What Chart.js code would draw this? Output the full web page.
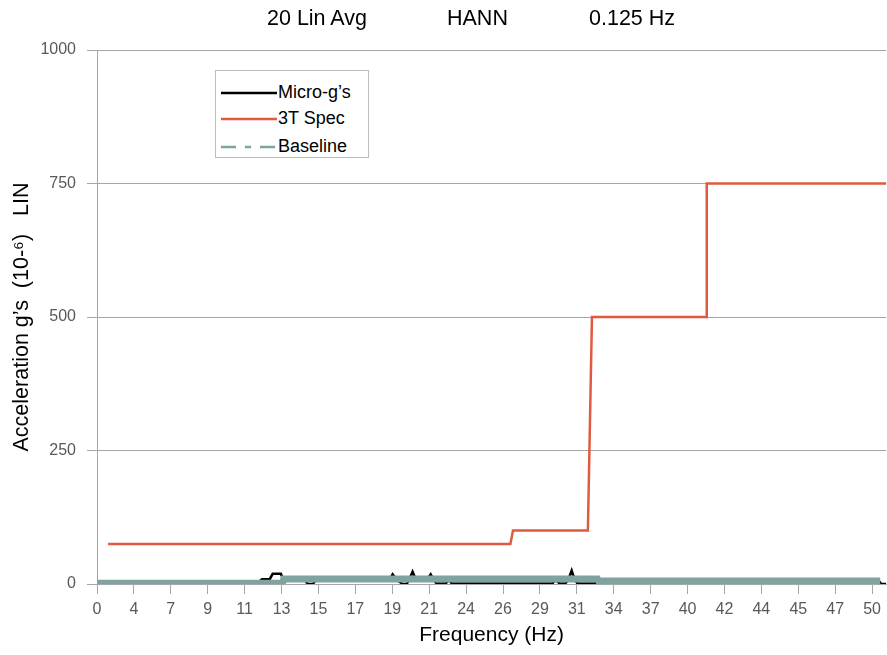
<!DOCTYPE html>
<html>
<head>
<meta charset="utf-8">
<script src="https://cdn.jsdelivr.net/npm/chart.js@4.4.1/dist/chart.umd.min.js"></script>
<style>
  body { margin: 0; background: #fff; }
  #wrap { position: relative; width: 887px; height: 655px; font-family: 'Liberation Sans', Arial, sans-serif; }
  .ttl { position: absolute; top: 6px; font-size: 21.5px; color: #000; white-space: nowrap; }
  #legend { position: absolute; left: 215px; top: 70px; width: 152px; height: 86px; border: 1px solid #bdbdbd; background: #fff; }
  .item { position: absolute; left: 5px; height: 22px; font-size: 18px; line-height: 22px; color: #000; white-space: nowrap; }
  .item svg { vertical-align: middle; margin-right: 1px; }
</style>
</head>
<body>
<div id="wrap">
  <canvas id="specChart" width="887" height="655"></canvas>
  <span class="ttl" style="left:267px">20 Lin Avg</span>
  <span class="ttl" style="left:447px">HANN</span>
  <span class="ttl" style="left:589px">0.125 Hz</span>
  <div id="legend">
    <div class="item" style="top:10px"><svg width="56" height="4"><line x1="0" y1="2" x2="56" y2="2" stroke="#000" stroke-width="2.5"/></svg>Micro-g’s</div>
    <div class="item" style="top:36px"><svg width="56" height="4"><line x1="0" y1="2" x2="56" y2="2" stroke="#e05a3f" stroke-width="2.5"/></svg>3T Spec</div>
    <div class="item" style="top:64px"><svg width="56" height="4"><line x1="0" y1="2" x2="56" y2="2" stroke="#7fa3a0" stroke-width="2.5" stroke-dasharray="15 9 6 9"/></svg>Baseline</div>
  </div>
</div>
<script>
// tick labels along the frequency axis (equally spaced bins)
const freqLabels = ['0', '4', '7', '9', '11', '13', '15', '17', '19', '21', '24', '26', '29', '31', '34', '37', '40', '42', '44', '45', '47', '50']

// x is the position along the bin axis, y is micro-g
const microX = [0, 4.36, 4.47, 4.68, 4.76, 4.98, 5.06, 5.63, 5.71, 5.85, 5.93, 7.93, 8.01, 8.12, 8.28, 8.39, 8.47, 8.55, 8.63, 8.96, 9.04, 9.12, 9.2, 9.45, 9.53, 9.61, 12.34, 12.42, 12.53, 12.69, 12.77, 12.86, 12.94, 13.02, 13.48, 13.61, 21.19, 21.25, 21.38]
const microY = [1, 2, 9, 9, 19, 19, 8, 8, 0, 0, 8, 8, 18, 8, 0, 0, 10, 23, 10, 10, 18, 8, 1, 1, 8, 1, 1, 8, 1, 1, 8, 25, 8, 1, 1, 5, 5, 0, 0]

const specX = [0.3, 11.2, 11.27, 13.3, 13.41, 16.5, 16.52, 21.38]
const specY = [75, 75, 100, 100, 500, 500, 750, 750]

const baseX = [0, 5.03, 5.06, 13.56, 13.59, 21.22]
const baseY = [1.5, 1.5, 9.5, 9.5, 5.5, 5.5]

const xMax = 21.38

function pts(xs, ys) {
  return xs.map((x, i) => ({ x: x, y: ys[i] }))
}

const font = "'Liberation Sans', Arial, sans-serif"

const data = {
  datasets: [
    {
      label: 'Micro-g’s',
      data: pts(microX, microY),
      borderColor: '#000000',
      borderWidth: 2.5,
      pointRadius: 0,
      order: 3,
    },
    {
      label: '3T Spec',
      data: pts(specX, specY),
      borderColor: '#e05a3f',
      borderWidth: 2.5,
      pointRadius: 0,
      order: 2,
    },
    {
      label: 'Baseline',
      data: pts(baseX, baseY),
      borderColor: '#7fa3a0',
      borderWidth: 7,
      pointRadius: 0,
      order: 1,
    },
  ],
}

const config = {
  type: 'line',
  data: data,
  options: {
    responsive: false,
    animation: false,
    layout: { padding: { top: 50, right: 0, left: 0, bottom: 0 } },
    plugins: { legend: { display: false }, tooltip: { enabled: false } },
    scales: {
      x: {
        type: 'linear',
        min: 0,
        max: xMax,
        afterFit: (s) => { s.height = 71 },
        // one tick per label, evenly spaced
        afterBuildTicks: (s) => { s.ticks = freqLabels.map((_, i) => ({ value: i })) },
        ticks: {
          stepSize: 1,
          autoSkip: false,
          maxRotation: 0,
          padding: 6,
          color: '#595959',
          font: { family: font, size: 16 },
          callback: (v) => freqLabels[v],
        },
        grid: { drawOnChartArea: false, tickLength: 10, color: '#a6a6a6' },
        border: { color: '#a6a6a6' },
        title: {
          display: true,
          text: 'Frequency (Hz)',
          color: '#000',
          font: { family: font, size: 21 },
          padding: { top: 0, bottom: 7 },
        },
      },
      y: {
        min: 0,
        max: 1000,
        afterFit: (s) => { s.width = 97 },
        ticks: {
          stepSize: 250,
          padding: 11,
          color: '#595959',
          font: { family: font, size: 16 },
          callback: (v) => String(v),
        },
        grid: { tickLength: 10, color: '#a6a6a6' },
        border: { color: '#a6a6a6' },
        title: {
          display: true,
          text: 'Acceleration g’s  (10-⁶)   LIN',
          color: '#000',
          font: { family: font, size: 21.5 },
          padding: { top: 9, bottom: 0 },
        },
      },
    },
  },
}

const myChart = new Chart(document.getElementById('specChart'), config)
</script>
</body>
</html>
